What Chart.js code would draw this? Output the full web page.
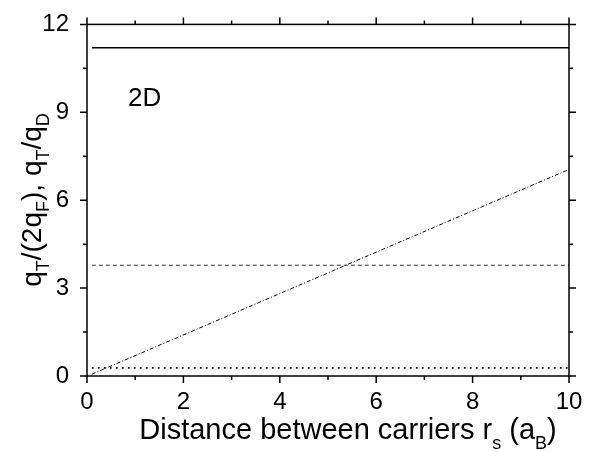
<!DOCTYPE html>
<html>
<head>
<meta charset="utf-8">
<script src="https://cdn.jsdelivr.net/npm/chart.js@4/dist/chart.umd.min.js"></script>
<style>
html,body{margin:0;padding:0;background:#fff;}
#wrap{width:594px;height:452px;}
</style>
</head>
<body>
<div id="wrap"><canvas id="c" width="594" height="452"></canvas></div>
<script>
// Data
const xRange = [0.1, 10];          // x extent of each line (r_s in a_B)
const solidY = [11.2, 11.2];       // solid line
const dashedY = [3.78, 3.78];      // dashed line
const dottedY = [0.28, 0.28];      // dotted line
const dashDotY = [0.06, 7.05];     // dash-dot line
const xTicksMajor = [0, 2, 4, 6, 8, 10];
const yTicksMajor = [0, 3, 6, 9, 12];

const FONT = '"Liberation Sans", Arial, sans-serif';

function pts(ys){ return xRange.map((x,i)=>({x:x, y:ys[i]})); }

function drawRich(ctx, parts, size, subSize, subOff){
  let w = 0;
  parts.forEach(p=>{
    ctx.font = (p.sub ? subSize : size) + 'px ' + FONT;
    p.w = ctx.measureText(p.t).width; w += p.w;
  });
  let x = -w/2;
  ctx.textBaseline = 'alphabetic';
  ctx.textAlign = 'left';
  parts.forEach(p=>{
    ctx.font = (p.sub ? subSize : size) + 'px ' + FONT;
    ctx.fillText(p.t, x, p.sub ? subOff : 0);
    x += p.w;
  });
}

const framePlugin = {
  id: 'frame',
  afterDatasetsDraw(chart){
    const ctx = chart.ctx, a = chart.chartArea;
    const xs = chart.scales.x, ys = chart.scales.y;
    ctx.save();
    ctx.strokeStyle = '#000';
    ctx.lineWidth = 1.5;
    ctx.strokeRect(a.left, a.top, a.right - a.left, a.bottom - a.top);
    ctx.beginPath();
    for (let v = 0; v <= 10; v += 1){
      const p = xs.getPixelForValue(v);
      const L = (v % 2 === 0) ? 7 : 4;
      ctx.moveTo(p, a.bottom); ctx.lineTo(p, a.bottom + L);
      ctx.moveTo(p, a.top); ctx.lineTo(p, a.top - L);
    }
    for (let v = 0; v <= 12; v += 1.5){
      const p = ys.getPixelForValue(v);
      const L = (v % 3 === 0) ? 7 : 4;
      ctx.moveTo(a.left, p); ctx.lineTo(a.left - L, p);
      ctx.moveTo(a.right, p); ctx.lineTo(a.right + L, p);
    }
    ctx.stroke();
    ctx.fillStyle = '#000';
    ctx.font = '26px ' + FONT;
    ctx.textAlign = 'left'; ctx.textBaseline = 'alphabetic';
    ctx.fillText('2D', 128, 106);
    // x title
    ctx.save();
    ctx.translate(348, 439);
    drawRich(ctx, [{t:'Distance between carriers r'},{t:'s',sub:true},{t:' (a'},{t:'B',sub:true},{t:')'}], 29, 18, 10);
    ctx.restore();
    // y title
    ctx.save();
    ctx.translate(41, 200);
    ctx.rotate(-Math.PI/2);
    drawRich(ctx, [{t:'q'},{t:'T',sub:true},{t:'/(2q'},{t:'F',sub:true},{t:'), q'},{t:'T',sub:true},{t:'/q'},{t:'D',sub:true}], 28, 18, 8);
    ctx.restore();
    ctx.restore();
  }
};

new Chart(document.getElementById('c'), {
  type: 'scatter',
  data: {
    datasets: [
      {data: pts(solidY), showLine: true, borderColor: '#000', borderWidth: 1.5, pointRadius: 0},
      {data: pts(dashedY), showLine: true, borderColor: '#333', borderWidth: 1, borderDash: [4, 3], pointRadius: 0},
      {data: pts(dottedY), showLine: true, borderColor: '#000', borderWidth: 1.8, borderDash: [1.8, 4.2], pointRadius: 0},
      {data: pts(dashDotY), showLine: true, borderColor: '#000', borderWidth: 1, borderDash: [4, 2, 1, 2], pointRadius: 0}
    ]
  },
  options: {
    responsive: false,
    animation: false,
    devicePixelRatio: 1,
    layout: {padding: {top: 20, right: 25, left: 0, bottom: 0}},
    plugins: {legend: {display: false}, tooltip: {enabled: false}},
    scales: {
      x: {
        type: 'linear', min: 0, max: 10,
        afterFit(s){ s.height = 76; },
        afterBuildTicks(s){ s.ticks = xTicksMajor.map(v=>({value:v})); },
        grid: {display: false},
        border: {display: false},
        ticks: {color: '#000', font: {size: 24, family: FONT}, padding: 4, maxRotation: 0}
      },
      y: {
        type: 'linear', min: 0, max: 12,
        afterFit(s){ s.width = 87; },
        afterBuildTicks(s){ s.ticks = yTicksMajor.map(v=>({value:v})); },
        grid: {display: false},
        border: {display: false},
        ticks: {color: '#000', font: {size: 24, family: FONT}, padding: 10}
      }
    }
  },
  plugins: [framePlugin]
});
</script>
</body>
</html>
